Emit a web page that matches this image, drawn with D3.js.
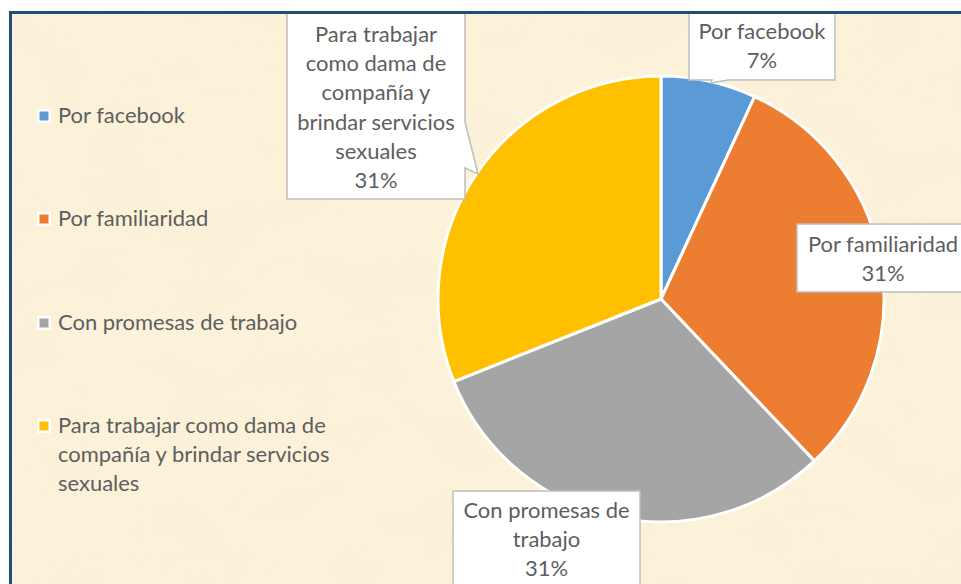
<!DOCTYPE html>
<html>
<head>
<meta charset="utf-8">
<script src="https://cdn.jsdelivr.net/npm/d3@7"></script>
<style>
  html, body { margin: 0; padding: 0; background: #ffffff; }
  svg { display: block; }
</style>
</head>
<body>
<svg id="chart" width="961" height="584"></svg>
<script>
// ---- data ----
const categories = [
  "Por facebook",
  "Por familiaridad",
  "Con promesas de trabajo",
  "Para trabajar como dama de compañía y brindar servicios sexuales"
];
const values = [2, 9, 9, 9];
const colors = ["#5b9bd5", "#ed7d31", "#a5a5a5", "#ffc000"];
const legendLines = [
  ["Por facebook"],
  ["Por familiaridad"],
  ["Con promesas de trabajo"],
  ["Para trabajar como dama de", "compañía y brindar servicios", "sexuales"]
];
const calloutLines = [
  ["Por facebook"],
  ["Por familiaridad"],
  ["Con promesas de", "trabajo"],
  ["Para trabajar", "como dama de", "compañía y", "brindar servicios", "sexuales"]
];

// ---- layout ----
const W = 961, H = 584;
const svg = d3.select("#chart");
const textColor = "#5e5e5e";
const fontFamily = "Lato, 'Open Sans', 'DejaVu Sans', sans-serif";
const lineH = 29.2;

// background / frame
const defs = svg.append("defs");
const f = defs.append("filter").attr("id", "parch").attr("x", 0).attr("y", 0).attr("width", 1).attr("height", 1);
f.append("feTurbulence").attr("type", "fractalNoise").attr("baseFrequency", "0.012 0.02").attr("numOctaves", 4).attr("seed", 7).attr("result", "n");
f.append("feColorMatrix").attr("in", "n").attr("type", "matrix")
  .attr("values", "0 0 0 0 0.92  0 0 0 0 0.84  0 0 0 0 0.66  0 0 0 -1.6 0.95");

svg.append("rect").attr("x", 10).attr("y", 12).attr("width", W).attr("height", H)
  .attr("fill", "#fcf1d9");
svg.append("rect").attr("x", 10).attr("y", 12).attr("width", W).attr("height", H)
  .attr("fill", "#000").attr("filter", "url(#parch)").attr("opacity", 0.22);
svg.append("rect").attr("x", 10.5).attr("y", 12.5).attr("width", W + 10).attr("height", H + 10)
  .attr("fill", "none").attr("stroke", "#1f4e79").attr("stroke-width", 3);

// measure to fit a Calibri-like width
const probe = svg.append("text").attr("font-family", fontFamily).attr("font-size", 24).text("Por facebook");
const measured = probe.node().getComputedTextLength();
probe.remove();
const fontSize = Math.min(24, 24 * 127 / (measured || 127));

// ---- pie ----
const cx = 661, cy = 299, r = 223;
const pie = d3.pie().sort(null).value(d => d)(values);
const arc = d3.arc().innerRadius(0).outerRadius(r);
const total = d3.sum(values);
const pct = d3.format(".0%");

const g = svg.append("g").attr("transform", `translate(${cx},${cy})`);
g.selectAll("path").data(pie).join("path")
  .attr("d", arc)
  .attr("fill", (d, i) => colors[i])
  .attr("stroke", "#ffffff")
  .attr("stroke-width", 3)
  .attr("stroke-linejoin", "round");

// ---- legend ----
const legendTop = [123, 226, 330, 433];
legendLines.forEach((lines, i) => {
  const y0 = legendTop[i];
  svg.append("rect").attr("x", 37).attr("y", y0 - 14).attr("width", 14).attr("height", 14).attr("fill", "#ffffff");
  svg.append("rect").attr("x", 39.5).attr("y", y0 - 11.5).attr("width", 9).attr("height", 9).attr("fill", colors[i]);
  const t = svg.append("text").attr("font-family", fontFamily).attr("font-size", fontSize)
    .attr("font-weight", 400).attr("fill", textColor);
  lines.forEach((ln, j) => {
    t.append("tspan").attr("x", 58).attr("y", y0 + j * lineH).text(ln);
  });
});

// ---- callouts ----
const boxes = [
  { x: 689, y: 13, w: 146, h: 67, base: 39, ptr: { side: "bottom", a: 712, b: 728, tip: [711, 83] } },
  { x: 797, y: 224, w: 172, h: 68, base: 252, ptr: null },
  { x: 453, y: 491, w: 187, h: 110, base: 518, ptr: null },
  { x: 287, y: 13, w: 178, h: 186, base: 42, ptr: { side: "right", a: 122, b: 168, tip: [478, 174] } }
];

boxes.forEach((b, i) => {
  let p;
  const x0 = b.x, y0 = b.y, x1 = b.x + b.w, y1 = b.y + b.h;
  if (b.ptr && b.ptr.side === "bottom") {
    p = [[x0, y0], [x1, y0], [x1, y1], [b.ptr.b, y1], b.ptr.tip, [b.ptr.a, y1], [x0, y1]];
  } else if (b.ptr && b.ptr.side === "right") {
    p = [[x0, y0], [x1, y0], [x1, b.ptr.a], b.ptr.tip, [x1, b.ptr.b], [x1, y1], [x0, y1]];
  } else {
    p = [[x0, y0], [x1, y0], [x1, y1], [x0, y1]];
  }
  svg.append("path")
    .attr("d", d3.line()(p) + "Z")
    .attr("fill", "#ffffff")
    .attr("stroke", "#bfbfbf")
    .attr("stroke-width", 1.5);
  const lines = calloutLines[i].concat([pct(values[i] / total)]);
  const t = svg.append("text").attr("font-family", fontFamily).attr("font-size", fontSize)
    .attr("font-weight", 400).attr("fill", textColor).attr("text-anchor", "middle");
  lines.forEach((ln, j) => {
    t.append("tspan").attr("x", b.x + b.w / 2).attr("y", b.base + j * lineH).text(ln);
  });
});

// frame top line drawn again over callouts
svg.append("line").attr("x1", 9).attr("x2", W).attr("y1", 12.5).attr("y2", 12.5)
  .attr("stroke", "#1f4e79").attr("stroke-width", 3);
</script>
</body>
</html>
